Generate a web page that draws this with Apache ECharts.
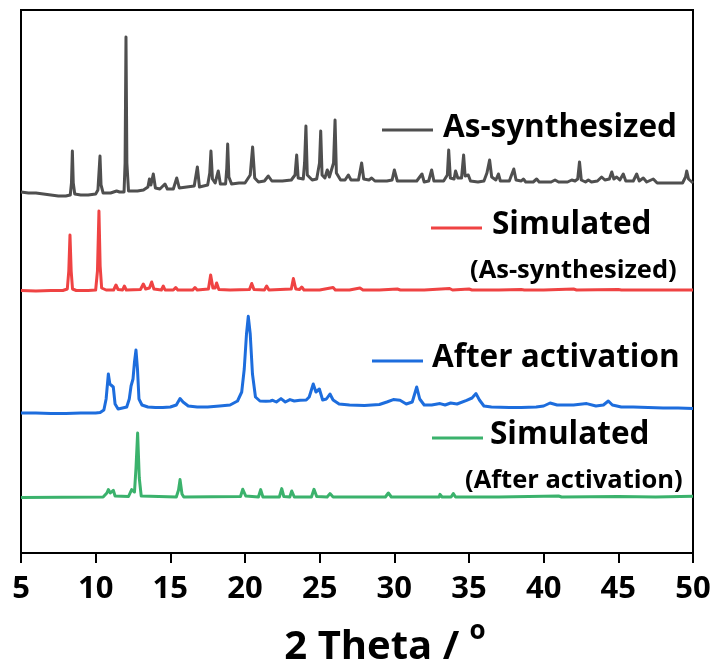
<!DOCTYPE html>
<html>
<head>
<meta charset="utf-8">
<script src="https://cdn.jsdelivr.net/npm/echarts@6/dist/echarts.min.js"></script>
<style>
  html, body { margin: 0; padding: 0; background: #fff; }
  #chart { width: 717px; height: 666px; }
</style>
</head>
<body>
<div id="chart"></div>
<script>
// PXRD patterns, [2θ (°), intensity (a.u.)], each relative to its own baseline
const asSynthesized = [
  [5.0, 1], [5.5, 0], [6.0, 0], [6.5, -1], [7.0, -2], [7.5, -3], [8.0, -3], [8.3, -2],
  [8.38, 10], [8.44, 42], [8.5, 10], [8.6, -1], [9.0, -2], [9.5, -2], [10.0, -1],
  [10.15, 3], [10.22, 20], [10.29, 37], [10.36, 8], [10.5, 0], [11.0, 0], [11.4, 2],
  [11.5, 4], [11.6, 1], [11.9, 1], [11.97, 30], [12.03, 156], [12.09, 30], [12.2, 2],
  [12.8, 2], [13.2, 3], [13.5, 6], [13.6, 14], [13.7, 8], [13.86, 19], [14.0, 5],
  [14.3, 4], [14.64, 9], [14.8, 4], [15.2, 4], [15.43, 15], [15.6, 5], [16.1, 6],
  [16.6, 7], [16.81, 26], [16.95, 6], [17.5, 8], [17.64, 20], [17.72, 42], [17.82, 14],
  [18.0, 10], [18.21, 22], [18.35, 9], [18.7, 9], [18.78, 25], [18.84, 49], [18.92, 16],
  [19.1, 9], [19.6, 10], [20.0, 10], [20.35, 18], [20.51, 46], [20.65, 15], [20.9, 11],
  [21.3, 12], [21.56, 17], [21.8, 12], [22.5, 12], [23.1, 13], [23.35, 18], [23.46, 38],
  [23.56, 15], [23.9, 14], [23.99, 30], [24.08, 67], [24.17, 18], [24.5, 13], [24.8, 14],
  [24.99, 30], [25.07, 62], [25.16, 18], [25.35, 15], [25.51, 23], [25.65, 16],
  [25.93, 30], [26.03, 73], [26.12, 20], [26.4, 13], [26.7, 13], [26.92, 18], [27.1, 13],
  [27.6, 13], [27.81, 30], [27.95, 14], [28.3, 13], [28.48, 15], [28.7, 12], [29.5, 12],
  [29.85, 13], [30.0, 23], [30.2, 12], [31.0, 12], [31.5, 12], [31.85, 19], [32.0, 11],
  [32.3, 12], [32.5, 23], [32.65, 12], [33.3, 12], [33.55, 18], [33.64, 43], [33.75, 15],
  [34.0, 14], [34.1, 22], [34.25, 15], [34.5, 15], [34.64, 38], [34.74, 17], [34.95, 18],
  [35.1, 12], [35.6, 11], [36.0, 12], [36.2, 20], [36.38, 33], [36.52, 16], [36.8, 13],
  [36.97, 19], [37.1, 12], [37.7, 12], [38.0, 24], [38.15, 13], [38.5, 12], [38.64, 14],
  [38.8, 11], [39.3, 11], [39.53, 14], [39.7, 11], [40.5, 11], [40.76, 13], [41.0, 11],
  [41.6, 11], [41.88, 13], [42.1, 12], [42.28, 14], [42.4, 31], [42.52, 13], [42.8, 11],
  [42.99, 13], [43.2, 11], [43.6, 12], [43.88, 16], [44.1, 13], [44.4, 14], [44.56, 21],
  [44.7, 14], [44.89, 16], [45.1, 13], [45.33, 19], [45.5, 12], [46.0, 12], [46.23, 19],
  [46.4, 12], [46.67, 15], [46.9, 11], [47.34, 14], [47.6, 10], [48.5, 10], [49.3, 10],
  [49.5, 16], [49.58, 22], [49.7, 14], [50.0, 10]
];

const simulatedAsSynthesized = [
  [5.0, 0.5], [6.0, 0], [7.0, 0.5], [7.8, 0.5], [8.1, 2], [8.2, 20], [8.28, 56], [8.36, 20],
  [8.45, 2], [8.7, 0.5], [9.5, 0.5], [10.0, 1], [10.12, 20], [10.22, 80], [10.3, 25],
  [10.4, 3], [10.7, 1], [11.2, 1], [11.36, 6], [11.5, 1.5], [11.8, 1], [11.92, 5],
  [12.05, 1], [13.0, 1.5], [13.19, 7], [13.35, 2], [13.6, 3], [13.75, 9], [13.9, 2],
  [14.4, 1], [14.53, 5], [14.65, 1], [15.2, 1], [15.36, 3.5], [15.5, 1], [16.5, 1],
  [16.65, 3.5], [16.8, 1], [17.55, 2], [17.7, 16], [17.85, 3], [18.0, 3], [18.1, 8],
  [18.25, 1.5], [19.0, 1], [20.3, 1.5], [20.45, 7.5], [20.6, 1.5], [21.3, 1], [21.45, 5],
  [21.6, 1], [23.1, 2], [23.24, 12.5], [23.4, 2], [23.65, 1.5], [23.8, 4], [23.95, 1],
  [25.0, 1], [25.9, 3.5], [26.05, 1], [27.0, 1], [27.7, 3], [27.9, 1], [29.0, 1],
  [30.2, 2], [30.4, 1], [32.0, 1], [33.7, 2.5], [33.9, 1], [35.0, 2], [35.2, 1],
  [37.0, 1], [38.5, 1.5], [38.7, 1], [40.0, 1], [42.0, 2], [42.2, 1], [45.0, 1.5],
  [45.2, 1], [47.5, 1], [50.0, 1]
];

const afterActivation = [
  [5.0, 1], [6.0, 1], [7.0, 0.5], [8.0, 0.5], [9.0, 1], [10.0, 1], [10.3, 1.5],
  [10.55, 4], [10.7, 15], [10.85, 40], [10.95, 30], [11.05, 28], [11.18, 27], [11.3, 10],
  [11.5, 5], [11.8, 6], [12.08, 7], [12.25, 15], [12.37, 28], [12.5, 35], [12.6, 52],
  [12.7, 64], [12.8, 45], [12.9, 15], [13.1, 9], [13.5, 7], [14.0, 6.5], [14.5, 6.5],
  [15.0, 7], [15.4, 9], [15.65, 15.5], [15.85, 12], [15.98, 12], [16.2, 8], [16.8, 7],
  [17.5, 7], [18.3, 8], [19.0, 9], [19.5, 13], [19.78, 22], [19.95, 45], [20.1, 80],
  [20.22, 97.7], [20.35, 80], [20.5, 40], [20.7, 17], [21.0, 13], [21.4, 12.7],
  [21.7, 13], [21.85, 13.7], [22.1, 12], [22.41, 15.4], [22.7, 12], [23.01, 14.4],
  [23.3, 13], [23.68, 13.7], [24.1, 14], [24.3, 17], [24.57, 30], [24.75, 22],
  [24.98, 25], [25.2, 14], [25.45, 15], [25.69, 20], [25.9, 14], [26.3, 10], [27.0, 9],
  [28.0, 8.5], [29.0, 9.5], [29.5, 12], [29.93, 14.4], [30.38, 13.7], [30.8, 10],
  [31.2, 12], [31.5, 27], [31.7, 15], [32.0, 9], [32.5, 9], [33.06, 10.4], [33.4, 9],
  [33.77, 11], [34.2, 10], [34.84, 13.7], [35.2, 16], [35.47, 20.4], [35.7, 14],
  [36.0, 8], [36.5, 7], [37.7, 6.4], [38.5, 6.5], [39.5, 7], [40.0, 8], [40.43, 11],
  [40.9, 9], [41.5, 9], [42.0, 9], [42.88, 10.4], [43.5, 8], [44.0, 9], [44.33, 13],
  [44.6, 9], [45.2, 7], [46.0, 7], [47.0, 6.5], [48.0, 6], [49.0, 6], [50.0, 5.4]
];

const simulatedAfterActivation = [
  [5.0, 0.5], [10.5, 1], [10.75, 5], [10.85, 8.4], [10.98, 5], [11.18, 7.7], [11.3, 2],
  [12.2, 1.5], [12.41, 8.4], [12.6, 6], [12.7, 30], [12.81, 65], [12.92, 20], [13.05, 2],
  [15.4, 1], [15.55, 8], [15.65, 18.4], [15.78, 4], [15.9, 1], [19.7, 1.5], [19.85, 8.7],
  [20.05, 2], [20.9, 1], [21.05, 8.4], [21.2, 1], [22.3, 1], [22.46, 9.4], [22.6, 1.5],
  [23.0, 1], [23.13, 7], [23.3, 1], [24.45, 1], [24.62, 8.7], [24.8, 1.5], [25.5, 1],
  [25.69, 4.4], [25.9, 1], [29.4, 1], [29.6, 5], [29.8, 1], [33.0, 1], [33.06, 3.7],
  [33.2, 1], [33.8, 1], [33.95, 4.4], [34.1, 1], [37.0, 1], [41.0, 2], [41.2, 1],
  [45.0, 1.5], [47.5, 1], [50.0, 1.7]
];

// vertical stacking of the four patterns (a.u.)
const seriesNames = ['As-synthesized', 'Simulated (As-synthesized)', 'After activation', 'Simulated (After activation)'];
const seriesData = [asSynthesized, simulatedAsSynthesized, afterActivation, simulatedAfterActivation];
const seriesOffsets = [360, 262, 139, 55];
const seriesColors = ['#4f4f4f', '#ef4343', '#1d6ddd', '#3bb26c'];

const xTicks = [5, 10, 15, 20, 25, 30, 35, 40, 45, 50];

const FONT = 'Open Sans';

const chart = echarts.init(document.getElementById('chart'), null, { renderer: 'canvas' });

const series = seriesData.map((d, i) => ({
  name: seriesNames[i],
  type: 'line',
  data: d.map(p => [p[0], p[1] + seriesOffsets[i]]),
  showSymbol: false,
  symbol: 'none',
  smooth: false,
  animation: false,
  lineStyle: { color: seriesColors[i], width: 3, join: 'round' },
  z: 2 + i
}));

// legend entries: line swatch + label
function legendItem(x1, x2, y, color, tx, ty, text, size) {
  const items = [];
  if (color) {
    items.push({
      type: 'line',
      shape: { x1: x1, y1: y, x2: x2, y2: y },
      style: { stroke: color, lineWidth: 3 }
    });
  }
  items.push({
    type: 'text',
    x: tx, y: ty,
    style: {
      text: text, fill: '#000', font: 'bold ' + size + 'px "' + FONT + '"',
      verticalAlign: 'middle', align: 'left'
    }
  });
  return items;
}

const graphics = [].concat(
  legendItem(382, 433, 130, seriesColors[0], 443, 128, 'As-synthesized', 31.5),
  legendItem(431, 482, 228, seriesColors[1], 492, 225, 'Simulated', 31.5),
  legendItem(0, 0, 0, null, 470, 271, '(As-synthesized)', 25.5),
  legendItem(372, 423, 361, seriesColors[2], 432, 358, 'After activation', 31.5),
  legendItem(432, 483, 438, seriesColors[3], 490, 435, 'Simulated', 31.5),
  legendItem(0, 0, 0, null, 465, 481, '(After activation)', 25.5)
);

chart.setOption({
  backgroundColor: '#fff',
  animation: false,
  grid: {
    left: 21, right: 24, top: 10, bottom: 113,
    outerBoundsMode: 'none', containLabel: false,
    show: true, borderColor: '#000', borderWidth: 2, backgroundColor: 'transparent'
  },
  xAxis: {
    type: 'value',
    min: xTicks[0], max: xTicks[xTicks.length - 1], interval: 5,
    axisLine: { show: true, onZero: false, lineStyle: { color: '#000', width: 2 } },
    axisTick: { show: true, inside: false, length: 10, lineStyle: { color: '#000', width: 2 } },
    axisLabel: {
      show: true, margin: 21, color: '#000',
      fontFamily: FONT, fontWeight: 'bold', fontSize: 31,
      formatter: v => String(v)
    },
    splitLine: { show: false },
    name: '2 Theta / {sup|o}',
    nameLocation: 'middle',
    nameGap: 66,
    nameTextStyle: {
      color: '#000', fontFamily: FONT, fontWeight: 'bold', fontSize: 40, lineHeight: 58,
      padding: [0, 0, 0, 56],
      rich: {
        sup: { color: '#000', fontFamily: FONT, fontWeight: 'bold', fontSize: 26, lineHeight: 26, verticalAlign: 'top' }
      }
    }
  },
  yAxis: {
    type: 'value', min: 0, max: 543,
    show: false,
    axisLine: { show: false }, axisTick: { show: false }, axisLabel: { show: false },
    splitLine: { show: false }
  },
  series: series,
  graphic: graphics
});
</script>
</body>
</html>
